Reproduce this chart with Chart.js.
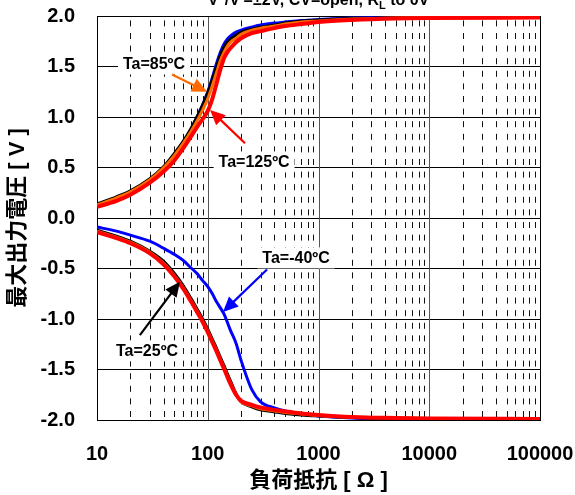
<!DOCTYPE html>
<html>
<head>
<meta charset="utf-8">
<script src="https://cdn.jsdelivr.net/npm/chart.js@4.4.1/dist/chart.umd.min.js"></script>
<style>
  html, body { margin: 0; padding: 0; background: #fff; }
  canvas { display: block; }
</style>
</head>
<body>
<canvas id="chart" width="575" height="495"></canvas>
<script>
// Load resistance [Ω]
const resistance = [10, 15, 20, 30, 40, 50, 60, 70, 80, 90, 100, 110, 120, 130, 140, 150, 160, 180, 200, 250, 300, 400, 500, 700, 1000, 2000, 5000, 10000, 100000];

// Maximum output voltage, positive swing [V]
const posM40 = [0.13, 0.20, 0.26, 0.38, 0.50, 0.63, 0.75, 0.87, 1.00, 1.12, 1.25, 1.39, 1.53, 1.64, 1.72, 1.77, 1.80, 1.84, 1.86, 1.89, 1.91, 1.93, 1.94, 1.955, 1.965, 1.98, 1.99, 1.995, 2.0];
const pos25  = [0.14, 0.21, 0.27, 0.39, 0.51, 0.64, 0.76, 0.88, 1.00, 1.12, 1.24, 1.37, 1.50, 1.61, 1.69, 1.74, 1.77, 1.81, 1.84, 1.87, 1.89, 1.91, 1.93, 1.95, 1.96, 1.975, 1.985, 1.99, 1.995];
const pos85  = [0.13, 0.20, 0.26, 0.38, 0.50, 0.62, 0.74, 0.85, 0.96, 1.07, 1.18, 1.31, 1.44, 1.56, 1.64, 1.70, 1.74, 1.78, 1.82, 1.86, 1.88, 1.90, 1.92, 1.94, 1.95, 1.97, 1.98, 1.985, 1.99];
const pos125 = [0.11, 0.17, 0.23, 0.35, 0.46, 0.57, 0.69, 0.80, 0.90, 0.98, 1.06, 1.18, 1.33, 1.47, 1.58, 1.64, 1.68, 1.74, 1.78, 1.83, 1.85, 1.88, 1.90, 1.92, 1.94, 1.96, 1.975, 1.98, 1.985];

// Maximum output voltage, negative swing [V]
const negM40 = [-0.09, -0.13, -0.17, -0.23, -0.30, -0.36, -0.42, -0.49, -0.55, -0.62, -0.68, -0.75, -0.83, -0.89, -0.95, -1.03, -1.11, -1.24, -1.41, -1.70, -1.82, -1.88, -1.91, -1.94, -1.96, -1.98, -1.99, -1.995, -2.0];
const neg25  = [-0.12, -0.18, -0.23, -0.33, -0.43, -0.55, -0.67, -0.79, -0.90, -1.00, -1.10, -1.20, -1.29, -1.38, -1.46, -1.54, -1.61, -1.74, -1.82, -1.87, -1.90, -1.92, -1.935, -1.95, -1.96, -1.975, -1.985, -1.99, -1.995];
const neg85  = [-0.13, -0.19, -0.24, -0.34, -0.45, -0.57, -0.69, -0.81, -0.92, -1.02, -1.12, -1.22, -1.31, -1.40, -1.48, -1.56, -1.63, -1.75, -1.82, -1.86, -1.89, -1.91, -1.925, -1.94, -1.955, -1.97, -1.98, -1.985, -1.99];
const neg125 = [-0.14, -0.20, -0.25, -0.35, -0.46, -0.58, -0.70, -0.82, -0.93, -1.03, -1.13, -1.23, -1.32, -1.41, -1.49, -1.57, -1.64, -1.75, -1.81, -1.85, -1.875, -1.90, -1.915, -1.935, -1.95, -1.97, -1.98, -1.985, -1.99];

// Axis ticks
const xTicks = [10, 100, 1000, 10000, 100000];
const yTicks = [-2.0, -1.5, -1.0, -0.5, 0.0, 0.5, 1.0, 1.5, 2.0];

// Temperature labels
const tempLabels = ['Ta=-40ºC', 'Ta=25ºC', 'Ta=85ºC', 'Ta=125ºC'];

const BOLD = '"Liberation Sans", Arial, "Noto Sans CJK JP", sans-serif';
const colors = { m40: '#0000FF', t25: '#000000', t85: '#FF6A00', t125: '#FF0000' };

const toPts = vals => resistance.map((r, i) => ({ x: r, y: vals[i] }));
function series(label, vals, color, width, order) {
  return {
    label, data: toPts(vals), borderColor: color, backgroundColor: color,
    borderWidth: width, pointRadius: 0, fill: false,
    cubicInterpolationMode: 'monotone', order
  };
}

const datasets = [
  series(tempLabels[3] + ' +', pos125, colors.t125, 4, 0),
  series(tempLabels[3] + ' -', neg125, colors.t125, 4, 0),
  series(tempLabels[2] + ' +', pos85, colors.t85, 3, 1),
  series(tempLabels[2] + ' -', neg85, colors.t85, 3, 1),
  series(tempLabels[1] + ' +', pos25, colors.t25, 3, 2),
  series(tempLabels[1] + ' -', neg25, colors.t25, 3, 2),
  series(tempLabels[0] + ' +', posM40, colors.m40, 3, 3),
  series(tempLabels[0] + ' -', negM40, colors.m40, 3, 3)
];

// Callouts: label text, label centre, arrow tail and arrow head in data units
const callouts = [
  { text: tempLabels[2], color: colors.t85,  at: [32.7, 1.53],  from: [47.5, 1.42],  to: [98.6, 1.25] },
  { text: tempLabels[3], color: colors.t125, at: [262, 0.56],   from: [217, 0.74],   to: [105, 1.07] },
  { text: tempLabels[0], color: colors.m40,  at: [627, -0.39],  from: [343, -0.51],  to: [137.4, -0.93] },
  { text: tempLabels[1], color: colors.t25,  at: [28.3, -1.31], from: [24.4, -1.16], to: [56.1, -0.63] }
];

// Log grid: solid lines at decades, dashed lines at 2..9 of each decade, plus the plot frame
const logGrid = {
  id: 'logGrid',
  beforeDatasetsDraw(chart) {
    const { ctx, chartArea: a, scales: { x } } = chart;
    ctx.save();
    ctx.lineWidth = 1;
    ctx.strokeStyle = '#111';
    ctx.setLineDash([6, 6.6]);
    for (let d = 10; d < 100000; d *= 10) {
      for (let k = 2; k <= 9; k++) {
        const px = Math.round(x.getPixelForValue(d * k)) + 0.5;
        ctx.beginPath();
        ctx.moveTo(px, a.bottom - 3);
        ctx.lineTo(px, a.top);
        ctx.stroke();
      }
    }
    ctx.setLineDash([]);
    ctx.strokeStyle = '#555';
    xTicks.forEach(v => {
      const px = Math.round(x.getPixelForValue(v)) + 0.5;
      ctx.beginPath();
      ctx.moveTo(px, a.bottom);
      ctx.lineTo(px, a.top);
      ctx.stroke();
    });
    ctx.strokeStyle = '#000';
    ctx.strokeRect(Math.round(a.left) + 0.5, Math.round(a.top) + 0.5,
                   Math.round(a.right - a.left), Math.round(a.bottom - a.top));
    ctx.restore();
  }
};

function arrow(ctx, x0, y0, x1, y1, color) {
  const ang = Math.atan2(y1 - y0, x1 - x0);
  const hl = 15, hw = 7;
  const bx = x1 - hl * Math.cos(ang), by = y1 - hl * Math.sin(ang);
  ctx.strokeStyle = color; ctx.fillStyle = color; ctx.lineWidth = 2.2;
  ctx.beginPath(); ctx.moveTo(x0, y0); ctx.lineTo(bx + 2 * Math.cos(ang), by + 2 * Math.sin(ang)); ctx.stroke();
  ctx.beginPath();
  ctx.moveTo(x1, y1);
  ctx.lineTo(bx + hw * Math.sin(ang), by - hw * Math.cos(ang));
  ctx.lineTo(bx - hw * Math.sin(ang), by + hw * Math.cos(ang));
  ctx.closePath(); ctx.fill();
}

const calloutPlugin = {
  id: 'callouts',
  afterDatasetsDraw(chart) {
    const { ctx, scales: { x, y } } = chart;
    ctx.save();
    ctx.font = 'bold 16px ' + BOLD;
    ctx.textAlign = 'center';
    ctx.textBaseline = 'middle';
    callouts.forEach(c => {
      const cx = x.getPixelForValue(c.at[0]), cy = y.getPixelForValue(c.at[1]);
      const w = ctx.measureText(c.text).width;
      ctx.fillStyle = '#fff';
      ctx.fillRect(cx - w / 2 - 5, cy - 10, w + 10, 21);
      ctx.fillStyle = '#000';
      ctx.fillText(c.text, cx, cy + 1);
      arrow(ctx, x.getPixelForValue(c.from[0]), y.getPixelForValue(c.from[1]),
            x.getPixelForValue(c.to[0]), y.getPixelForValue(c.to[1]), c.color);
    });
    ctx.restore();
  }
};

// Measurement condition line above the plot
const conditionParts = [['V', 0], ['+', 1], ['/V', 0], ['-', 1], ['=±2V, CV=open, R', 0], ['L', -1], [' to 0V', 0]];
const conditionPlugin = {
  id: 'condition',
  afterDraw(chart) {
    const { ctx, chartArea: a } = chart;
    ctx.save();
    ctx.fillStyle = '#000';
    ctx.textBaseline = 'alphabetic';
    ctx.textAlign = 'left';
    const big = 'bold 16px ' + BOLD, small = 'bold 11px ' + BOLD;
    let total = 0;
    conditionParts.forEach(([t, s]) => { ctx.font = s ? small : big; total += ctx.measureText(t).width; });
    let px = (a.left + a.right) / 2 - total / 2;
    const base = 5;
    conditionParts.forEach(([t, s]) => {
      ctx.font = s ? small : big;
      ctx.fillText(t, px, base - s * (s > 0 ? 6 : 4));
      px += ctx.measureText(t).width;
    });
    ctx.restore();
  }
};

// Keep the plot area fixed: no extra room for tick label overhang
function noOverhang(s) {
  s.paddingTop = 0; s.paddingBottom = 0; s.paddingLeft = 0; s.paddingRight = 0;
}

new Chart(document.getElementById('chart'), {
  type: 'line',
  data: { datasets },
  plugins: [logGrid, calloutPlugin, conditionPlugin],
  options: {
    responsive: false,
    animation: false,
    layout: { padding: { left: 0, right: 35, top: 16, bottom: 0 } },
    plugins: { legend: { display: false }, tooltip: { enabled: false }, title: { display: false } },
    scales: {
      x: {
        type: 'logarithmic',
        min: 10, max: 100000,
        afterBuildTicks: s => { s.ticks = xTicks.map(v => ({ value: v })); },
        afterFit: s => { s.height = 75; noOverhang(s); },
        ticks: {
          autoSkip: false, maxRotation: 0, padding: 22, color: '#000',
          font: { size: 20, weight: 'bold', family: BOLD },
          callback: v => String(v)
        },
        grid: { display: false, drawTicks: false },
        border: { display: false },
        title: {
          display: true, text: '負荷抵抗 [ Ω ]', color: '#000',
          font: { size: 22, weight: 'bold', family: BOLD },
          padding: { top: 0, bottom: 1 }
        }
      },
      y: {
        min: -2, max: 2,
        afterBuildTicks: s => { s.ticks = yTicks.map(v => ({ value: v })); },
        afterFit: s => { s.width = 97; noOverhang(s); },
        ticks: {
          padding: 22, color: '#000',
          font: { size: 20, weight: 'bold', family: BOLD },
          callback: v => Number(v).toFixed(1)
        },
        grid: { color: '#000', lineWidth: 1, drawTicks: false },
        border: { display: false },
        title: {
          display: true, text: '最大出力電圧 [ V ]', color: '#000',
          font: { size: 22, weight: 'bold', family: BOLD },
          padding: { top: 5, bottom: 0 }
        }
      }
    }
  }
});
</script>
</body>
</html>
